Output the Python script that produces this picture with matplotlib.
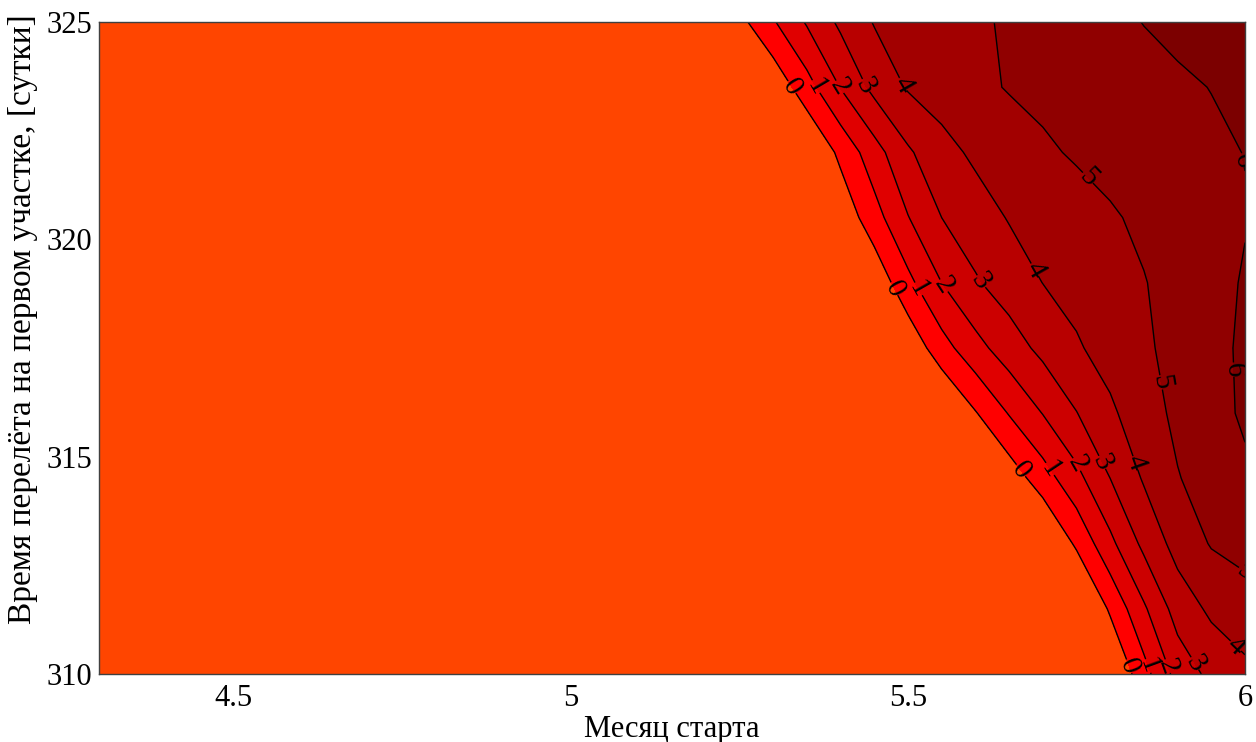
import numpy as np
import matplotlib.pyplot as plt

plt.rcParams['font.family'] = ['Liberation Serif', 'DejaVu Serif']

# launch month (x) and first-leg flight time in days (y)
months = [4.3, 5.20, 5.25, 5.30, 5.35, 5.40, 5.45, 5.50, 5.55, 5.60,
          5.65, 5.70, 5.75, 5.80, 5.85, 5.90, 5.95, 6.00]
days = [310, 311.5, 313, 314.5, 316, 317.5, 319, 320.5, 322, 323.5, 325]

# values, one row per flight time (bottom to top)
d310 = [-3, -3, -3, -3, -3, -3, -3, -3, -3, -3, -3, -3, -2.9, -1.16, 0.63, 2.36, 3.27, 3.75]
d311 = [-3, -3, -3, -3, -3, -3, -3, -3, -3, -3, -3, -3, -1.55, 0.15, 1.85, 3.43, 4.19, 4.6]
d313 = [-3, -3, -3, -3, -3, -3, -3, -3, -3, -3, -2.74, -1.26, 0.17, 1.75, 3.25, 4.37, 5.07, 5.3]
d314 = [-3, -3, -3, -3, -3, -3, -3, -3, -2.83, -1.73, -0.6, 0.53, 1.7, 3.0, 4.1, 4.95, 5.41, 5.85]
d316 = [-3, -3, -3, -3, -3, -3, -3, -2.46, -1.25, -0.07, 1.06, 2.03, 2.97, 3.83, 4.57, 5.21, 5.71, 6.12]
d317 = [-3, -3, -3, -3, -3, -3, -2.12, -0.76, 0.6, 1.66, 2.52, 3.26, 3.89, 4.38, 4.85, 5.3, 5.73, 6.15]
d319 = [-3, -3, -3, -3, -3, -2.1, -0.75, 0.73, 2.0, 2.89, 3.48, 4.01, 4.32, 4.64, 4.96, 5.33, 5.69, 6.08]
d320 = [-3, -3, -3, -3, -2.08, -0.72, 0.6, 1.96, 3.0, 3.55, 4.06, 4.34, 4.62, 4.9, 5.17, 5.43, 5.69, 5.95]
d322 = [-3, -3, -3, -2.48, -1.12, 0.24, 1.58, 2.86, 3.67, 4.18, 4.52, 4.86, 5.10, 5.29, 5.47, 5.65, 5.83, 6.02]
d323 = [-3, -3, -2.1, -0.76, 0.6, 2.04, 3.29, 4.09, 4.44, 4.78, 5.06, 5.22, 5.38, 5.54, 5.7, 5.86, 6.02, 6.2]
d325 = [-3, -1.5, -0.3, 0.9, 2.1, 3.2, 4.06, 4.33, 4.6, 4.86, 5.11, 5.34, 5.56, 5.79, 6.02, 6.21, 6.4, 6.6]

levels = [0, 1, 2, 3, 4, 5, 6]
fill_colors = ['#ff4500', '#ff0000', '#e00000', '#cc0000', '#b80000',
               '#a20000', '#900000', '#7c0000']

# where the labels sit on the lines (month, days)
label_pos = [
    (5.328, 323.5), (5.362, 323.5), (5.398, 323.5), (5.432, 323.5), (5.484, 323.5),
    (5.472, 318.8), (5.509, 318.8), (5.550, 318.9), (5.605, 319.0), (5.694, 319.35),
    (5.669, 314.7), (5.714, 314.75), (5.754, 314.85), (5.792, 314.9), (5.837, 314.85),
    (5.832, 310.2), (5.859, 310.2), (5.889, 310.2), (5.921, 310.2), (5.996, 310.8),
    (5.766, 321.4), (5.872, 316.7), (5.993, 312.0),
    (5.991, 321.8), (5.982, 317.0),
]

Z = np.array([d310, d311, d313, d314, d316, d317, d319, d320, d322, d323, d325])
X, Y = np.meshgrid(months, days)

fig = plt.figure(figsize=(12.56, 7.42), dpi=100)
ax = fig.add_axes([99/1256, 68/742, 1146/1256, 652/742])

ax.contourf(X, Y, Z, levels=[-10] + levels + [10], colors=fill_colors)
cs = ax.contour(X, Y, Z, levels=levels, colors='black', linewidths=1)
ax.clabel(cs, manual=label_pos, inline=True, fmt='%d', fontsize=21,
          inline_spacing=0)

ax.set_xlim(4.3, 6)
ax.set_ylim(310, 325)
ax.set_xticks([4.5, 5, 5.5, 6])
ax.set_xticklabels(['4.5', '5', '5.5', '6'])
ax.set_yticks([310, 315, 320, 325])
ax.tick_params(length=0, labelsize=22)
ax.tick_params(axis='x', pad=7)
ax.tick_params(axis='y', pad=5)
for sp in ax.spines.values():
    sp.set_color('#404040')
    sp.set_linewidth(1)

ax.set_xlabel('Месяц старта', fontsize=22, labelpad=2)
ax.set_ylabel('Время перелёта на первом участке, [сутки]', fontsize=24)
ax.yaxis.set_label_coords(-0.053, 0.545)

fig.savefig('out.png', dpi=100)
